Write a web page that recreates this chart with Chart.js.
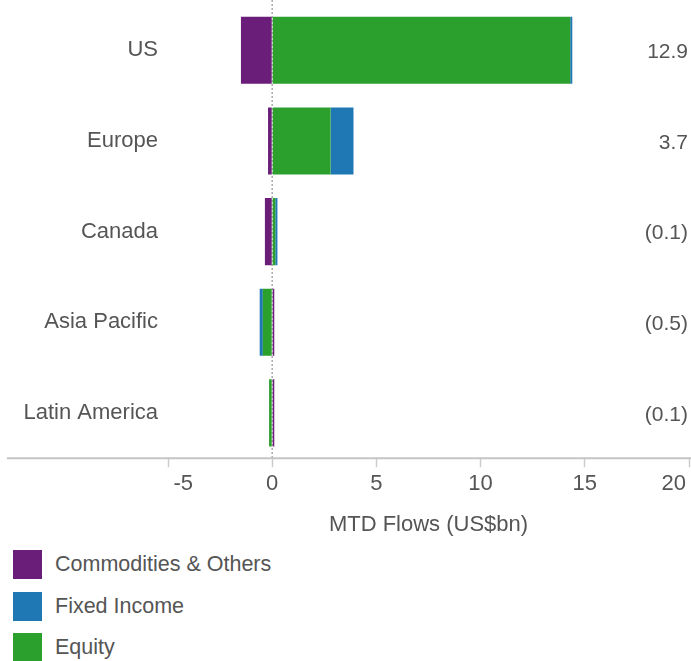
<!DOCTYPE html>
<html>
<head>
<meta charset="utf-8">
<script src="https://cdn.jsdelivr.net/npm/chart.js@4.4.1/dist/chart.umd.min.js"></script>
<style>
body { margin: 0; background: #fff; font-family: "Liberation Sans", Arial, sans-serif; }
#wrap { position: relative; width: 691px; height: 546px; }
#legend { position: absolute; left: 13px; top: 550px; }
.item { display: flex; align-items: center; height: 29px; margin-bottom: 12.5px; color: #555; font-size: 21.5px; }
.box { width: 29px; height: 29px; margin-right: 13px; }
</style>
</head>
<body>
<div id="wrap"><canvas id="flows"></canvas></div>
<div id="legend"></div>
<script>
// data (US$bn)
var regions = ["US", "Europe", "Canada", "Asia Pacific", "Latin America"];
var commodities = [-1.5, -0.2, -0.35, 0.1, 0.1];
var fixedIncome = [0.1, 1.1, 0.1, -0.15, 0];
var equity = [14.3, 2.8, 0.15, -0.45, -0.15];
var totalLabels = ["12.9", "3.7", "(0.1)", "(0.5)", "(0.1)"];
var xTicks = [-5, 0, 5, 10, 15, 20];

var purple = "#6b1e79";
var blue = "#1f77b4";
var green = "#2ca02c";
var grey = "#555";
var fontFamily = '"Liberation Sans", Arial, sans-serif';

// dotted zero line, extended axis line and totals on the right
var extras = {
	id: "extras",
	beforeDatasetsDraw: function(chart) {
		var ctx = chart.ctx, area = chart.chartArea;
		var x0 = chart.scales.x.getPixelForValue(0);
		ctx.save();
		ctx.strokeStyle = "#aaa";
		ctx.lineWidth = 1.5;
		ctx.setLineDash([2, 2]);
		ctx.beginPath();
		ctx.moveTo(x0, 0);
		ctx.lineTo(x0, area.bottom);
		ctx.stroke();
		ctx.restore();
	},
	afterDraw: function(chart) {
		var ctx = chart.ctx, area = chart.chartArea;
		var y = chart.scales.y;
		ctx.save();
		ctx.strokeStyle = "#c4c4c4";
		ctx.lineWidth = 2;
		ctx.beginPath();
		ctx.moveTo(7, area.bottom);
		ctx.lineTo(chart.width, area.bottom);
		ctx.stroke();

		ctx.font = "21px " + fontFamily;
		ctx.fillStyle = grey;
		ctx.textAlign = "right";
		ctx.textBaseline = "middle";
		totalLabels.forEach(function(t, i) {
			ctx.fillText(t, area.right - 1, y.getPixelForValue(i) + 2);
		});
		ctx.restore();
	}
};

var chart = new Chart(document.getElementById("flows"), {
	type: "bar",
	data: {
		labels: regions,
		datasets: [
			{ label: "Commodities & Others", data: commodities, backgroundColor: purple },
			{ label: "Equity", data: equity, backgroundColor: green },
			{ label: "Fixed Income", data: fixedIncome, backgroundColor: blue }
		]
	},
	options: {
		indexAxis: "y",
		responsive: true,
		maintainAspectRatio: false,
		animation: false,
		layout: { padding: { top: 5, right: 2, bottom: 4, left: 0 } },
		datasets: { bar: { barPercentage: 0.74, categoryPercentage: 1 } },
		plugins: {
			legend: { display: false },
			tooltip: { enabled: false }
		},
		scales: {
			x: {
				stacked: true,
				min: -5,
				max: 20,
				afterBuildTicks: function(scale) {
					scale.ticks = xTicks.map(function(v) { return { value: v }; });
				},
				afterFit: function(scale) {
					scale.paddingLeft = 0;
					scale.paddingRight = 0;
				},
				grid: { drawOnChartArea: false, drawTicks: true, tickLength: 9, tickColor: "#ccc", tickWidth: 1.5 },
				border: { display: false },
				ticks: {
					padding: 4,
					color: grey,
					font: { size: 22, family: fontFamily },
					maxRotation: 0,
					autoSkip: false,
					callback: function(v) {
						if (v === xTicks[0]) return "     " + v;
						if (v === xTicks[xTicks.length - 1]) return v + "     ";
						return "" + v;
					}
				},
				title: {
					display: true,
					text: "MTD Flows (US$bn)",
					color: grey,
					font: { size: 22, family: fontFamily },
					padding: { top: 10, bottom: 4 }
				}
			},
			y: {
				stacked: true,
				afterFit: function(scale) {
					scale.width = 168;
					scale.paddingTop = 0;
					scale.paddingBottom = 0;
				},
				grid: { display: false, drawTicks: false },
				border: { display: false },
				ticks: { padding: 10, color: grey, font: { size: 22, family: fontFamily } }
			}
		}
	},
	plugins: [extras]
});

// legend in the original order, stacked one per row
var legendItems = [
	["Commodities & Others", purple],
	["Fixed Income", blue],
	["Equity", green]
];
var legend = document.getElementById("legend");
legendItems.forEach(function(it) {
	var row = document.createElement("div");
	row.className = "item";
	row.innerHTML = '<span class="box" style="background:' + it[1] + '"></span><span>' + it[0] + '</span>';
	legend.appendChild(row);
});
</script>
</body>
</html>
